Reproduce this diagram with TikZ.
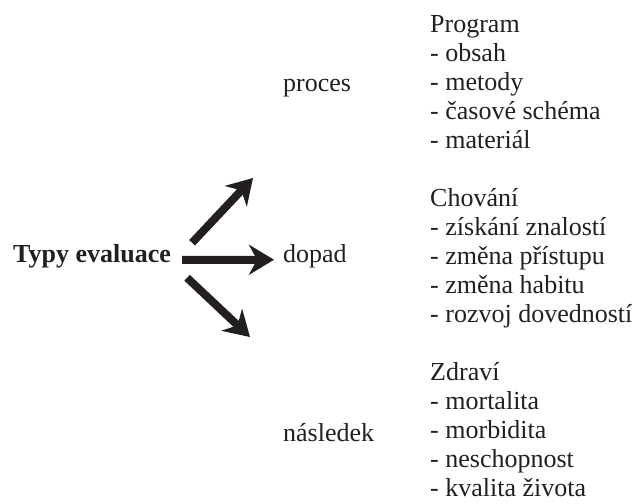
\documentclass[tikz,border=0pt]{standalone}
\usepackage{fontspec}
\setmainfont{Liberation Serif}
\usepackage{tikz}
\usetikzlibrary{arrows.meta, positioning}
\definecolor{tmava}{RGB}{35,31,32}
\tikzset{
	x=1bp, y=1bp, % one unit is one pixel of the picture
	popis/.style={anchor=base west, inner sep=0pt, text=tmava, font=\fontsize{26bp}{29bp}\selectfont}, % labels and lists
	seznam/.style={popis, align=left}, % lists with several lines, placed by their last line
	sipka/.style={draw=tmava, line width=8bp, -{Stealth[length=25bp, width=30bp, inset=8bp]}}, % the thick arrows
}
\begin{document}
\begin{tikzpicture}
	\useasboundingbox (0,0) rectangle (640,504);

	\node[popis, font=\fontsize{26bp}{29bp}\selectfont\bfseries] (typy) at (13,241) {Typy evaluace};
	\node[popis] (proces) at (283,412) {proces};
	\node[popis] (dopad) at (283,241) {dopad};
	\node[popis] (nasledek) at (283,62) {následek};

	\node[seznam] (program) at (430,355) {Program\\- obsah\\- metody\\- časové schéma\\- materiál};
	\node[seznam] (chovani) at (430,181) {Chování\\- získání znalostí\\- změna přístupu\\- změna habitu\\- rozvoj dovedností};
	\node[seznam] (zdravi) at (430,7) {Zdraví\\- mortalita\\- morbidita\\- neschopnost\\- kvalita života};

	\coordinate (nahoru) at (253,326);
	\coordinate (dolu) at (250,167);

	\draw[sipka, shorten <=11bp, shorten >=9bp] ([yshift=-3bp]typy.east) -- ([yshift=-3bp]dopad.west);
	\draw[sipka] ([shift={(21,14)}]typy.east) -- (nahoru);
	\draw[sipka] ([shift={(16,-21)}]typy.east) -- (dolu);
\end{tikzpicture}
\end{document}
